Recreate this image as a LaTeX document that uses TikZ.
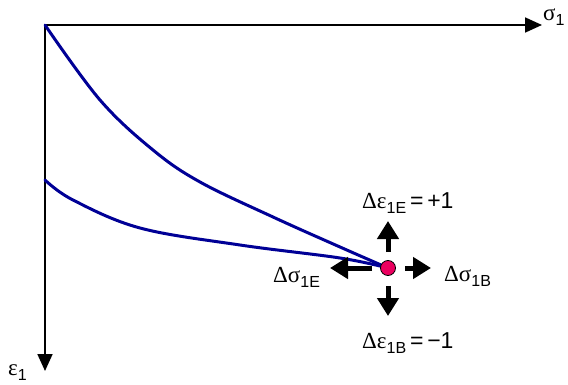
\documentclass[tikz,border=0pt]{standalone}
\usepackage{fontspec}
\setmainfont{Liberation Sans}
\newfontfamily\grk{Liberation Serif}
\usetikzlibrary{arrows.meta}
\definecolor{curveblue}{RGB}{0,0,150}
\definecolor{dotred}{RGB}{235,0,95}
\tikzset{
  axis/.style={line width=1.8pt,-{Triangle[length=17pt,width=15pt]}},
  curve/.style={line width=3pt,curveblue,line cap=round},
  push/.style={line width=5pt,-{Triangle[length=18pt,width=21pt]}},
  lbl/.style={anchor=base west,inner sep=0pt,font=\fontsize{23}{26}\selectfont},
}
\newcommand{\sbs}[1]{\raisebox{-5pt}{\fontsize{16}{17}\selectfont #1}}
\begin{document}
\begin{tikzpicture}[x=1pt,y=-1pt]
\useasboundingbox (0,0) rectangle (568,385);
\coordinate (O) at (45,25);
\coordinate (sx) at (542,25);
\coordinate (ey) at (45,371);
\draw[axis] (O) -- (sx);
\draw[axis] (O) -- (ey);
\node[lbl] (slab) at (543,21) {{\grk σ}\sbs{1}};
\node[lbl] (elab) at (8,375) {{\grk ε}\sbs{1}};
\coordinate (c2) at (45,180);
\draw[curve] plot[smooth,tension=0.6] coordinates {(45,25) (100,100) (153,150) (200,182) (273,217) (340,247) (388,268)};
\draw[curve] plot[smooth,tension=0.6] coordinates {(45,180) (73,200) (140,228) (240,245) (340,258) (388,268)};
\node[circle,draw=black,line width=0.8pt,fill=dotred,minimum size=15pt,inner sep=0pt] (p) at (388,268) {};
\coordinate (u0) at (388,252); \coordinate (u1) at (388,221);
\coordinate (r0) at (405,268); \coordinate (r1) at (431,268);
\coordinate (d0) at (388,286); \coordinate (d1) at (388,316);
\coordinate (l0) at (372,268); \coordinate (l1) at (330,268);
\draw[push] (u0) -- (u1);
\draw[push] (r0) -- (r1);
\draw[push] (d0) -- (d1);
\draw[push] (l0) -- (l1);
\node[lbl] (tE) at (362,208) {{\grk Δε}\sbs{1E}\,=\,+1};
\node[lbl] (tB) at (444,281) {{\grk Δσ}\sbs{1B}};
\node[lbl] (bB) at (362,348) {{\grk Δε}\sbs{1B}\,=\,−1};
\node[lbl] (lE) at (273,282) {{\grk Δσ}\sbs{1E}};
\end{tikzpicture}
\end{document}
